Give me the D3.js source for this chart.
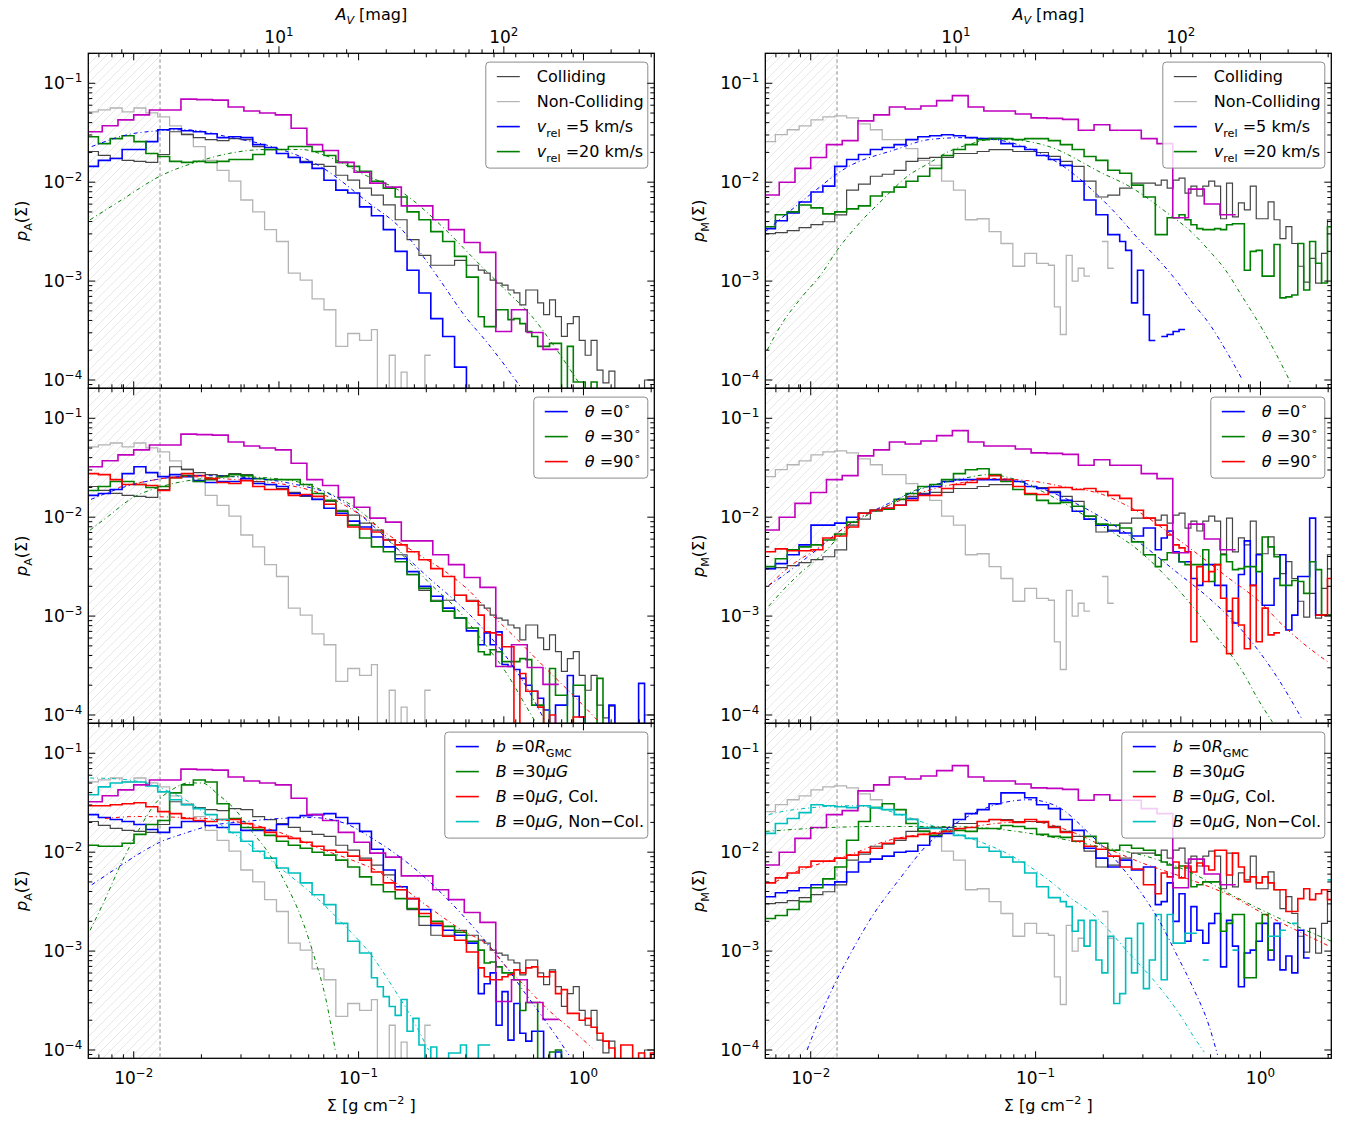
<!DOCTYPE html>
<html>
<head>
<meta charset="utf-8">
<script src="https://cdn.jsdelivr.net/npm/d3@7"></script>
<style>
  body { margin: 0; background: #fff; }
  svg { font-family: "DejaVu Sans", sans-serif; }
</style>
</head>
<body>
<svg id="chart" width="1348" height="1121"></svg>
<script>
// histogram binning (log10 of Σ in g cm^-2); tails continue at half the bin width
const FINE_START = -2.21, FINE_W = 0.0528;
const MAG_START = -2.21, MAG_W = 0.07;
const SIG_CUT = -1.883;      // log10 Σ of the dashed threshold
const AV_PER_SIG = 226;      // A_V [mag] per g cm^-2

// ---- values: log10 p(Σ), one per bin ----
const leftMag = [-1.49,-1.43,-1.37,-1.32,-1.27,-1.27,-1.16,-1.165,-1.17,-1.24,-1.28,-1.30,-1.32,-1.455,-1.62,-1.68,-1.80,-1.90,-2.01,-2.05,-2.24,-2.24,-2.38,-2.48,-2.61,-2.71,-3.51,-3.29,-3.52,-3.69];
const rightMag = [-2.13,-2.00,-1.86,-1.75,-1.62,-1.58,-1.38,-1.32,-1.24,-1.26,-1.23,-1.175,-1.125,-1.24,-1.28,-1.28,-1.31,-1.35,-1.355,-1.365,-1.475,-1.42,-1.475,-1.475,-1.56,-1.61,-2.36,-2.07,-2.22,-2.33];

const leftNon = [-1.29,-1.27,-1.25,-1.29,-1.25,-1.30,-1.34,-1.43,-1.51,-1.64,-1.78,-1.88,-1.99,-2.18,-2.30,-2.48,-2.60,-2.92,-2.99,-3.18,-3.29,-3.66,-3.53,-3.60];
const leftNonTail = [-3.49,-4.3,-4.3,-3.75,-4.3,-3.92,-4.3,-4.3,-4.3,-3.75];
const rightNon = [-1.59,-1.52,-1.47,-1.43,-1.37,-1.34,-1.33,-1.35,-1.41,-1.47,-1.57,-1.57,-1.66,-1.78,-1.83,-1.99,-2.08,-2.38,-2.37,-2.50,-2.62,-2.85,-2.72,-2.82];
const rightNonTail = [-2.84,-3.26,-3.54,-2.74,-3.00,-2.87,-2.95,null,null,-2.60,-2.87];

const leftColl = [-1.69,-1.73,-1.76,-1.78,-1.79,-1.80,-1.72,-1.49,-1.52,-1.55,-1.57,-1.58,-1.56,-1.57,-1.64,-1.67,-1.71,-1.75,-1.79,-1.82,-1.84,-1.93,-1.98,-2.06,-2.13,-2.23,-2.38,-2.58,-2.74,-2.84,-2.84,-2.79,-2.84];
const leftCollTail = [-2.89,-2.92,-2.99,-3.02,-3.04,-3.09,-3.12,-3.24,-3.09,-3.09,-3.22,-3.34,-3.19,-3.36,-3.56,-3.43,-3.36,-3.60,-3.75,-3.60,-3.90,-4.03,-3.91,-4.3,-4.3,-4.3,-4.3,-4.3,-4.0,-4.0];
const rightColl = [-2.52,-2.51,-2.49,-2.46,-2.43,-2.40,-2.33,-2.08,-2.02,-1.94,-1.92,-1.88,-1.79,-1.76,-1.75,-1.75,-1.71,-1.71,-1.69,-1.67,-1.67,-1.69,-1.69,-1.70,-1.74,-1.79,-1.84,-1.99,-2.15,-2.13,-2.06,-2.01,-2.01];
const rightCollTail = [-2.03,-1.98,-2.06,-1.98,-1.96,-2.11,-2.04,-2.14,-2.04,-1.99,-2.04,-2.37,-2.01,-2.35,-2.21,-2.28,-2.04,-2.37,-2.37,-2.20,-2.38,-2.57,-2.45,-2.62,-2.85,-3.01,-2.77,-3.02,-2.72,-2.38];

// top row: relative velocity
const tlV5 = [-1.84,-1.78,-1.76,-1.67,-1.67,-1.59,-1.47,-1.46,-1.48,-1.49,-1.51,-1.55,-1.54,-1.55,-1.62,-1.65,-1.71,-1.75,-1.80,-1.86,-1.98,-2.08,-2.11,-2.25,-2.34,-2.48,-2.70,-2.89,-3.12,-3.38,-3.56,-3.87,-4.3];
const tlV20 = [-1.54,-1.61,-1.56,-1.53,-1.59,-1.71,-1.74,-1.79,-1.80,-1.79,-1.80,-1.79,-1.77,-1.77,-1.72,-1.67,-1.67,-1.64,-1.64,-1.69,-1.73,-1.80,-1.84,-1.89,-1.99,-2.06,-2.15,-2.30,-2.38,-2.50,-2.60,-2.75,-2.96];
const tlV20Tail = [-3.36,-3.46,-3.46,-3.29,-3.29,-3.39,-3.38,-3.43,-3.51,-3.56,-3.66,-3.66,-3.63,-3.63,-4.3,-3.66,-4.02,-4.02,-4.3,-4.02,-4.3];
const trV5 = [-2.47,-2.39,-2.31,-2.20,-2.10,-2.04,-1.84,-1.77,-1.72,-1.67,-1.65,-1.62,-1.57,-1.54,-1.53,-1.52,-1.53,-1.55,-1.56,-1.56,-1.61,-1.64,-1.67,-1.73,-1.77,-1.83,-1.99,-2.18,-2.33,-2.53];
const trV5Tail = [-2.60,-2.69,-3.22,-2.89,-3.34,-3.60,null,-3.56,-3.54,-3.51,-3.49];
const trV20 = [-2.45,-2.33,-2.30,-2.23,-2.26,-2.32,-2.30,-2.27,-2.24,-2.14,-2.10,-2.05,-1.99,-1.94,-1.86,-1.73,-1.67,-1.62,-1.57,-1.56,-1.56,-1.57,-1.56,-1.56,-1.58,-1.62,-1.67,-1.74,-1.78,-1.88,-1.91,-2.03,-2.15];
const trV20Tail = [-2.53,-2.53,-2.36,-2.36,-2.33,-2.38,-2.43,-2.47,-2.48,-2.48,-2.47,-2.48,-2.43,-2.42,-2.42,-2.89,-2.70,-2.69,-2.95,-2.95,-2.63,-3.17,-3.16,-3.14,-2.62,-3.09,-2.60,-2.82,-3.02,-2.45];

// middle row: collision angle
const mlT0 = [-1.78,-1.76,-1.72,-1.56,-1.49,-1.55,-1.59,-1.57,-1.59,-1.63,-1.65,-1.64,-1.64,-1.61,-1.66,-1.67,-1.69,-1.76,-1.78,-1.82,-1.91,-1.96,-2.04,-2.10,-2.20,-2.30,-2.42,-2.55,-2.70,-2.80,-2.92,-3.02,-3.15];
const mlT0Tail = [-3.29,-3.17,-3.29,-3.16,-3.49,-3.51,-3.54,-3.63,-3.70,-3.76,-3.83,-3.95,-4.3,-3.90,-3.90,-3.60,-3.81,-4.02,-4.3,-4.3,-4.3,-4.3,-3.90,-4.3,-4.3,-4.3,-4.3,-3.68,-4.3,-4.3];
const mlT30 = [-1.73,-1.69,-1.64,-1.64,-1.67,-1.70,-1.69,-1.60,-1.58,-1.64,-1.62,-1.59,-1.57,-1.58,-1.61,-1.62,-1.62,-1.62,-1.67,-1.76,-1.83,-1.94,-2.08,-2.21,-2.30,-2.35,-2.45,-2.58,-2.72,-2.85,-2.95,-3.02,-3.12];
const mlT30Tail = [-3.36,-3.39,-3.34,-3.36,-3.46,-3.46,-3.46,-3.43,-3.44,-3.90,-3.90,-4.3,-3.53,-3.80,-3.80,-4.3,-3.70,-3.70,-4.3,-4.3,-3.63,-4.3,-4.3];
const mlT90 = [-1.56,-1.57,-1.62,-1.67,-1.67,-1.68,-1.73,-1.60,-1.56,-1.58,-1.61,-1.65,-1.66,-1.63,-1.69,-1.72,-1.72,-1.78,-1.77,-1.79,-1.87,-1.98,-2.10,-2.12,-2.15,-2.23,-2.28,-2.35,-2.43,-2.52,-2.60,-2.79,-2.85];
const mlT90Tail = [-2.99,-3.16,-3.17,-3.19,-3.31,-3.31,-4.3,-3.58,-3.76,-3.76,-3.92,-4.3,-4.0,-4.3,-4.3,-4.3,-4.02,-4.02];
const mrT0 = [-2.52,-2.47,-2.38,-2.28,-2.08,-2.08,-2.06,-2.00,-1.96,-1.93,-1.91,-1.88,-1.81,-1.77,-1.69,-1.64,-1.62,-1.62,-1.62,-1.62,-1.62,-1.64,-1.69,-1.71,-1.75,-1.83,-1.94,-2.02,-2.08,-2.14,-2.16,-2.19,-2.11];
const mrT0Tail = [-2.33,-2.21,-2.14,-2.35,-2.45,-2.45,-2.62,-2.69,-2.48,-2.48,-2.69,-2.69,-2.95,-3.07,-2.58,-2.24,-2.69,-2.38,-2.89,-2.89,-2.62,-2.38,-3.14,-2.99,-2.60,-2.60,-2.01,-2.99,-2.99,-2.99];
const mrT30 = [-2.50,-2.42,-2.33,-2.30,-2.28,-2.23,-2.17,-2.05,-1.96,-1.93,-1.92,-1.82,-1.76,-1.69,-1.67,-1.62,-1.56,-1.52,-1.51,-1.57,-1.64,-1.72,-1.77,-1.83,-1.86,-1.85,-1.89,-1.99,-2.07,-2.08,-2.11,-2.25,-2.38];
const mrT30Tail = [-2.50,-2.43,-2.36,-2.36,-2.45,-2.48,-2.48,-2.48,-2.33,-2.65,-2.48,-2.38,-2.45,-2.53,-2.52,-2.50,-2.50,-2.55,-2.20,-2.30,-2.40,-2.69,-2.69,-2.64,-2.65,-2.77,-2.45,-2.53,-2.99,-2.99];
const mrT90 = [-2.35,-2.32,-2.34,-2.34,-2.33,-2.21,-2.19,-2.10,-1.96,-1.93,-1.91,-1.88,-1.83,-1.78,-1.78,-1.71,-1.67,-1.65,-1.61,-1.58,-1.62,-1.69,-1.76,-1.77,-1.70,-1.70,-1.72,-1.71,-1.74,-1.78,-1.81,-1.93,-2.01];
const mrT90Tail = [-2.08,-2.08,-2.18,-2.28,-2.31,-2.35,-3.26,-2.50,-2.65,-2.55,-2.48,-2.82,-3.38,-2.82,-3.09,-3.33,-2.69,-3.26,-2.92,-3.19,-3.17,null,null,null,null,null,null,-2.99,-2.99,-2.62];

// bottom row: impact parameter / field strength
const blB0 = [-1.62,-1.65,-1.67,-1.69,-1.72,-1.77,-1.80,-1.75,-1.69,-1.69,-1.73,-1.75,-1.72,-1.78,-1.78,-1.78,-1.72,-1.65,-1.63,-1.62,-1.61,-1.65,-1.71,-1.79,-1.97,-2.18,-2.35,-2.47,-2.58,-2.74,-2.79,-2.84,-2.92];
const blB0Tail = [-3.43,-3.33,-3.22,-3.75,-3.41,-3.90,-3.53,-3.83,-3.91,-3.81,-3.81,-4.3,-4.3,-4.02,-4.3];
const blB30 = [-1.93,-1.94,-1.94,-1.91,-1.82,-1.72,-1.68,-1.40,-1.32,-1.27,-1.29,-1.51,-1.66,-1.75,-1.77,-1.83,-1.89,-1.93,-1.96,-2.00,-2.03,-2.08,-2.15,-2.25,-2.33,-2.40,-2.47,-2.57,-2.65,-2.70,-2.75,-2.81,-2.90];
const blB30Tail = [-2.99,-3.12,-3.11,-3.16,-3.22,-3.22,-3.29,-3.60,-3.52,-3.52,-4.3,-4.3,-4.02,-4.0,-4.3];
const blCol = [-1.53,-1.53,-1.52,-1.51,-1.50,-1.54,-1.59,-1.61,-1.66,-1.68,-1.69,-1.67,-1.67,-1.71,-1.75,-1.80,-1.84,-1.86,-1.90,-1.94,-1.98,-2.00,-2.04,-2.08,-2.20,-2.31,-2.38,-2.47,-2.62,-2.72,-2.85,-2.89,-3.01];
const blColTail = [-3.17,-3.26,-3.29,-3.29,-3.26,-3.24,-3.19,-3.22,-3.17,-3.16,-3.26,-3.26,-3.21,-3.43,-3.39,-3.63,-3.63,-3.70,-3.68,-3.77,-3.83,-3.91,-3.98,-4.3,-3.95,-3.95,-4.3,-4.03,-4.3,-4.03];
const blNon = [-1.42,-1.34,-1.30,-1.29,-1.29,-1.33,-1.39,-1.47,-1.52,-1.56,-1.62,-1.67,-1.80,-1.89,-1.99,-2.06,-2.16,-2.21,-2.31,-2.43,-2.53,-2.72,-2.90,-3.02];
const blNonTail = [-3.27,-3.36,-3.46,-3.56,-3.65,-3.49,-3.81,-3.68,-3.95,-4.3,-3.97,-4.3,-4.3,-4.03,-4.03,-3.95,-4.3,-4.3,-3.95,-3.95];
const brB0 = [-2.45,-2.41,-2.39,-2.36,-2.33,-2.33,-2.30,-2.20,-2.10,-2.07,-2.04,-2.00,-1.99,-1.93,-1.84,-1.81,-1.67,-1.61,-1.57,-1.51,-1.40,-1.40,-1.45,-1.52,-1.56,-1.67,-1.78,-1.96,-2.06,-2.15,-2.08,-2.18,-2.15];
const brB0Tail = [-2.53,-2.50,-2.31,-2.70,-2.42,-2.90,-2.55,-2.79,-2.92,-2.72,-2.62,-3.16,-2.69,-2.95,-3.36,-3.02,-2.99,-2.90,-2.72,-3.09,-2.72,-3.19,-3.05,-3.22,-2.79,-3.07];
const brB30 = [-2.67,-2.64,-2.58,-2.50,-2.36,-2.27,-2.15,-1.88,-1.69,-1.55,-1.51,-1.57,-1.71,-1.79,-1.83,-1.79,-1.78,-1.79,-1.76,-1.76,-1.73,-1.74,-1.76,-1.82,-1.84,-1.85,-1.89,-1.84,-1.91,-1.98,-1.93,-1.96,-1.98];
const brB30Tail = [-2.03,-2.10,-2.13,-2.16,-2.14,-2.16,-2.35,-2.33,-2.30,-2.30,-2.30,-2.80,-2.72,-2.63,-2.63,-3.27,-3.27,-2.72,-2.63,-2.99];
const brCol = [-2.31,-2.26,-2.21,-2.15,-2.09,-2.09,-2.06,-2.03,-2.00,-1.96,-1.91,-1.86,-1.84,-1.82,-1.81,-1.79,-1.76,-1.75,-1.69,-1.67,-1.68,-1.70,-1.67,-1.69,-1.75,-1.80,-1.89,-1.94,-1.97,-2.04,-2.15,-2.17,-2.33];
const brColTail = [-2.42,-2.21,-2.25,-2.10,-2.26,-2.14,-2.20,-2.11,-2.14,-2.18,-1.98,-1.98,-2.23,-2.01,-2.15,-2.30,-2.25,-2.31,-2.25,-2.31,-2.38,-2.38,-2.60,-2.60,-2.47,-2.37,-2.48,-2.42,-2.38,-2.48];
const brNon = [-1.81,-1.71,-1.66,-1.60,-1.52,-1.53,-1.54,-1.55,-1.53,-1.55,-1.57,-1.62,-1.67,-1.75,-1.76,-1.77,-1.83,-1.86,-1.95,-1.99,-2.05,-2.10,-2.21,-2.35,-2.46];
const brNonTail = [-2.50,-2.55,-2.80,-2.69,-2.95,-2.69,-3.09,-3.22,-2.85,-3.53,-3.43,-2.87,-3.22,-2.72,-3.38,-3.09,-2.63,-3.29,-2.63,-2.92,-2.92,-2.82,-2.82,null,-3.09,null,null,null,null,-2.99,null,null,null,null,null,-2.85,-2.85,-2.79,null,-2.72,null,null,null,null,null,-2.28];

// ---- fits: [log10 Σ, log10 p] ----
const tlV5Fit = [[-2.187,-1.64],[-1.979,-1.50],[-1.771,-1.47],[-1.564,-1.55],[-1.386,-1.64],[-1.178,-1.83],[-0.955,-2.21],[-0.807,-2.48],[-0.733,-2.69],[-0.629,-3.02],[-0.525,-3.36],[-0.436,-3.60],[-0.347,-3.86],[-0.280,-4.07]];
const tlV20Fit = [[-2.194,-2.38],[-2.068,-2.20],[-1.875,-1.93],[-1.712,-1.79],[-1.578,-1.71],[-1.415,-1.67],[-1.252,-1.67],[-1.148,-1.73],[-0.970,-1.93],[-0.822,-2.08],[-0.614,-2.48],[-0.480,-2.79],[-0.347,-3.09],[-0.228,-3.36],[-0.139,-3.63],[-0.020,-4.03]];
const trV5Fit = [[-2.202,-2.50],[-2.128,-2.36],[-1.994,-2.11],[-1.846,-1.86],[-1.623,-1.67],[-1.475,-1.57],[-1.326,-1.55],[-1.178,-1.57],[-1.029,-1.66],[-0.896,-1.81],[-0.748,-2.08],[-0.658,-2.28],[-0.540,-2.58],[-0.451,-2.79],[-0.376,-2.99],[-0.302,-3.22],[-0.228,-3.43],[-0.154,-3.70],[-0.080,-4.0]];
const trV20Fit = [[-2.194,-3.70],[-2.128,-3.43],[-2.039,-3.16],[-1.950,-2.92],[-1.883,-2.69],[-1.786,-2.42],[-1.682,-2.18],[-1.564,-1.93],[-1.475,-1.81],[-1.386,-1.69],[-1.297,-1.62],[-1.207,-1.57],[-1.118,-1.57],[-1.029,-1.59],[-0.940,-1.64],[-0.703,-1.91],[-0.585,-2.04],[-0.392,-2.35],[-0.318,-2.48],[-0.229,-2.69],[-0.155,-2.89],[-0.080,-3.16],[-0.006,-3.43],[0.068,-3.73],[0.135,-4.03]];
const mlT0Fit = [[-2.19,-1.82],[-2.05,-1.70],[-1.90,-1.62],[-1.70,-1.58],[-1.50,-1.60],[-1.30,-1.66],[-1.10,-1.80],[-0.97,-2.02],[-0.822,-2.33],[-0.68,-2.63],[-0.554,-2.88],[-0.458,-3.10],[-0.347,-3.40],[-0.258,-3.70],[-0.169,-4.07]];
const mlT30Fit = [[-2.194,-2.13],[-2.113,-1.99],[-2.009,-1.81],[-1.875,-1.69],[-1.727,-1.62],[-1.549,-1.59],[-1.326,-1.62],[-1.148,-1.74],[-0.970,-1.98],[-0.777,-2.45],[-0.674,-2.69],[-0.554,-2.95],[-0.436,-3.29],[-0.347,-3.56],[-0.258,-3.90],[-0.214,-4.07]];
const mlT90Fit = [[-2.068,-1.70],[-1.950,-1.64],[-1.771,-1.59],[-1.549,-1.62],[-1.326,-1.67],[-1.148,-1.78],[-0.970,-2.01],[-0.822,-2.25],[-0.718,-2.40],[-0.614,-2.55],[-0.510,-2.74],[-0.406,-2.99],[-0.302,-3.22],[-0.198,-3.46],[-0.109,-3.66],[-0.020,-3.86],[0.069,-4.07]];
const mrT0Fit = [[-2.187,-2.69],[-2.128,-2.60],[-2.001,-2.38],[-1.846,-2.10],[-1.653,-1.86],[-1.475,-1.69],[-1.297,-1.62],[-1.148,-1.62],[-1.0,-1.69],[-0.822,-1.86],[-0.673,-2.05],[-0.525,-2.28],[-0.376,-2.55],[-0.228,-2.82],[-0.080,-3.15],[0.069,-3.60],[0.187,-4.05]];
const mrT30Fit = [[-2.187,-2.90],[-2.128,-2.75],[-2.039,-2.55],[-1.950,-2.38],[-1.875,-2.20],[-1.771,-2.01],[-1.653,-1.88],[-1.549,-1.74],[-1.445,-1.67],[-1.326,-1.61],[-1.207,-1.57],[-1.088,-1.62],[-0.970,-1.74],[-0.748,-2.03],[-0.540,-2.34],[-0.332,-2.82],[-0.213,-3.16],[-0.080,-3.56],[-0.006,-3.86],[0.053,-4.07]];
const mrT90Fit = [[-2.187,-2.69],[-2.083,-2.48],[-1.994,-2.35],[-1.920,-2.23],[-1.846,-2.10],[-1.771,-1.99],[-1.653,-1.88],[-1.549,-1.78],[-1.445,-1.71],[-1.326,-1.65],[-1.207,-1.61],[-1.088,-1.62],[-0.970,-1.65],[-0.881,-1.69],[-0.792,-1.72],[-0.703,-1.77],[-0.614,-1.86],[-0.525,-1.97],[-0.406,-2.16],[-0.287,-2.36],[-0.139,-2.62],[-0.006,-2.85],[0.098,-3.09],[0.187,-3.27],[0.298,-3.46]];
const blB0Fit = [[-2.187,-2.33],[-2.068,-2.15],[-1.950,-1.98],[-1.875,-1.89],[-1.801,-1.83],[-1.653,-1.73],[-1.504,-1.69],[-1.356,-1.66],[-1.207,-1.65],[-1.059,-1.71],[-0.940,-1.86],[-0.852,-1.99],[-0.733,-2.20],[-0.629,-2.42],[-0.540,-2.63],[-0.436,-2.90],[-0.347,-3.15],[-0.258,-3.43],[-0.184,-3.66],[-0.124,-3.85],[-0.065,-4.05]];
const blB30Fit = [[-2.194,-2.79],[-2.128,-2.48],[-2.053,-2.10],[-1.979,-1.78],[-1.905,-1.51],[-1.831,-1.37],[-1.757,-1.30],[-1.697,-1.30],[-1.623,-1.42],[-1.549,-1.57],[-1.475,-1.79],[-1.400,-2.01],[-1.326,-2.31],[-1.252,-2.68],[-1.193,-3.09],[-1.148,-3.46],[-1.104,-4.0]];
const blColFit = [[-2.128,-1.66],[-1.994,-1.64],[-1.771,-1.65],[-1.475,-1.72],[-1.326,-1.82],[-1.178,-1.96],[-1.029,-2.08],[-0.926,-2.18],[-0.822,-2.33],[-0.673,-2.58],[-0.540,-2.79],[-0.421,-2.95],[-0.347,-3.15],[-0.258,-3.36],[-0.154,-3.60],[-0.050,-3.80],[0.039,-3.98]];
const blNonFit = [[-2.194,-1.25],[-2.068,-1.26],[-1.920,-1.32],[-1.771,-1.47],[-1.623,-1.71],[-1.475,-1.94],[-1.326,-2.20],[-1.178,-2.48],[-1.059,-2.75],[-0.940,-3.05],[-0.852,-3.35],[-0.770,-3.65],[-0.689,-4.0]];
const brB0Fit = [[-2.016,-4.0],[-1.920,-3.46],[-1.831,-3.06],[-1.727,-2.65],[-1.608,-2.28],[-1.475,-1.91],[-1.326,-1.67],[-1.178,-1.52],[-1.029,-1.47],[-0.911,-1.53],[-0.748,-1.84],[-0.659,-2.04],[-0.540,-2.38],[-0.451,-2.69],[-0.376,-3.02],[-0.302,-3.36],[-0.228,-3.76],[-0.191,-4.05]];
const brB30Fit = [[-2.20,-1.79],[-2.0,-1.76],[-1.7,-1.74],[-1.4,-1.74],[-1.2,-1.76],[-0.970,-1.83],[-0.748,-1.93],[-0.480,-2.06],[-0.287,-2.23],[-0.155,-2.40],[0.038,-2.62],[0.202,-2.79],[0.315,-2.90]];
const brColFit = [[-2.157,-2.30],[-2.068,-2.20],[-1.935,-2.10],[-1.831,-2.03],[-1.653,-1.88],[-1.475,-1.81],[-1.326,-1.76],[-1.178,-1.71],[-1.029,-1.69],[-0.822,-1.81],[-0.673,-1.97],[-0.525,-2.11],[-0.347,-2.25],[-0.228,-2.35],[-0.124,-2.45],[-0.020,-2.58],[0.098,-2.72],[0.187,-2.82],[0.306,-2.95]];
const brNonFit = [[-2.187,-1.62],[-2.128,-1.59],[-1.994,-1.55],[-1.846,-1.53],[-1.697,-1.56],[-1.549,-1.66],[-1.400,-1.78],[-1.252,-1.89],[-1.104,-2.04],[-0.926,-2.31],[-0.852,-2.45],[-0.748,-2.62],[-0.585,-3.02],[-0.451,-3.36],[-0.362,-3.63],[-0.287,-3.90],[-0.250,-4.02]];

// ---- legends ----
const LEG_VREL = [
  ["black", [{t: "Colliding"}]],
  ["gray", [{t: "Non-Colliding"}]],
  ["blue", [{t: "v", it: 1}, {t: "rel", sub: 1}, {t: " =5 km/s"}]],
  ["green", [{t: "v", it: 1}, {t: "rel", sub: 1}, {t: " =20 km/s"}]]
];
const LEG_THETA = [
  ["blue", [{t: "θ", it: 1}, {t: " =0"}, {t: "∘", sup: 1}]],
  ["green", [{t: "θ", it: 1}, {t: " =30"}, {t: "∘", sup: 1}]],
  ["red", [{t: "θ", it: 1}, {t: " =90"}, {t: "∘", sup: 1}]]
];
const LEG_B = [
  ["blue", [{t: "b", it: 1}, {t: " =0"}, {t: "R", it: 1}, {t: "GMC", sub: 1}]],
  ["green", [{t: "B", it: 1}, {t: " =30"}, {t: "μG", it: 1}]],
  ["red", [{t: "B", it: 1}, {t: " =0"}, {t: "μG", it: 1}, {t: ", Col."}]],
  ["cyan", [{t: "B", it: 1}, {t: " =0"}, {t: "μG", it: 1}, {t: ", Non−Col."}]]
];

const COLOR = {
  black: "#454545", gray: "#b4b4b4", mag: "#bf00bf",
  blue: "#0000ff", green: "#008000", red: "#ff0000", cyan: "#00bfbf"
};

// ---- layout ----
const COL_X = [88.3, 765.3], PW = 566;
const ROW_Y = [53.3, 388.3, 723.3], PH = 335;
const LOG_X = [-2.202, 0.315], LOG_Y = [-4.084, -0.697];

const panels = [
  {col: 0, row: 0, hist: [["blue", tlV5], ["green", tlV20, tlV20Tail]], fits: [["blue", tlV5Fit], ["green", tlV20Fit]], legend: LEG_VREL, legW: 162},
  {col: 1, row: 0, hist: [["blue", trV5, trV5Tail], ["green", trV20, trV20Tail]], fits: [["blue", trV5Fit], ["green", trV20Fit]], legend: LEG_VREL, legW: 162},
  {col: 0, row: 1, hist: [["blue", mlT0, mlT0Tail], ["green", mlT30, mlT30Tail], ["red", mlT90, mlT90Tail]], fits: [["blue", mlT0Fit], ["green", mlT30Fit], ["red", mlT90Fit]], legend: LEG_THETA, legW: 114},
  {col: 1, row: 1, hist: [["blue", mrT0, mrT0Tail], ["green", mrT30, mrT30Tail], ["red", mrT90, mrT90Tail]], fits: [["blue", mrT0Fit], ["green", mrT30Fit], ["red", mrT90Fit]], legend: LEG_THETA, legW: 114},
  {col: 0, row: 2, hist: [["blue", blB0, blB0Tail], ["green", blB30, blB30Tail], ["red", blCol, blColTail], ["cyan", blNon, blNonTail]], fits: [["blue", blB0Fit], ["green", blB30Fit], ["red", blColFit], ["cyan", blNonFit]], legend: LEG_B, legW: 203},
  {col: 1, row: 2, hist: [["blue", brB0, brB0Tail], ["green", brB30, brB30Tail], ["red", brCol, brColTail], ["cyan", brNon, brNonTail]], fits: [["blue", brB0Fit], ["green", brB30Fit], ["red", brColFit], ["cyan", brNonFit]], legend: LEG_B, legW: 203}
];
const shared = [
  {coll: [leftColl, leftCollTail], non: [leftNon, leftNonTail], mag: leftMag, ylab: "A"},
  {coll: [rightColl, rightCollTail], non: [rightNon, rightNonTail], mag: rightMag, ylab: "M"}
];

const svg = d3.select("#chart");
const FS = 16, TFS = 17;

// text with sub/superscripts and italics
function rich(sel, parts, fs) {
  let shift = 0;
  parts.forEach(pt => {
    const ts = sel.append("tspan").text(pt.t);
    const target = pt.sub ? fs * 0.28 : pt.sup ? -fs * 0.42 : 0;
    if (target !== shift) { ts.attr("dy", target - shift); shift = target; }
    if (pt.sub || pt.sup) ts.attr("font-size", fs * 0.7);
    if (pt.it) ts.attr("font-style", "italic");
  });
  return sel;
}

// step outline; runs = [{start, width, vals}], consecutive bins are joined
function stepPath(x, y, runs) {
  const p = d3.path();
  let prev = false;
  runs.forEach(r => r.vals.forEach((v, k) => {
    if (v === null) { prev = false; return; }
    const x0 = x(Math.pow(10, r.start + k * r.width));
    const x1 = x(Math.pow(10, r.start + (k + 1) * r.width));
    const yy = y(Math.pow(10, v));
    if (prev) p.lineTo(x0, yy); else p.moveTo(x0, yy);
    p.lineTo(x1, yy);
    prev = true;
  }));
  return p.toString();
}
function runs(coarse, tail) {
  const out = [{start: FINE_START, width: FINE_W, vals: coarse}];
  if (tail) out.push({start: FINE_START + coarse.length * FINE_W, width: FINE_W / 2, vals: tail});
  return out;
}

const defs = svg.append("defs");
const hatch = defs.append("pattern").attr("id", "hatch")
  .attr("patternUnits", "userSpaceOnUse").attr("width", 9).attr("height", 9);
hatch.append("path").attr("d", "M-2,2 L2,-2 M0,9 L9,0 M7,11 L11,7")
  .attr("stroke", "#e2e2e2").attr("stroke-width", 0.8);

const isMajor = v => Math.abs(Math.log10(v) - Math.round(Math.log10(v))) < 1e-6;
const supLabel = v => [{t: "10"}, {t: String(Math.round(Math.log10(v))).replace("-", "−"), sup: 1}];

panels.forEach((pn, i) => {
  const x0 = COL_X[pn.col], y0 = ROW_Y[pn.row];
  const sh = shared[pn.col];
  const x = d3.scaleLog().domain(LOG_X.map(v => Math.pow(10, v))).range([x0, x0 + PW]);
  const y = d3.scaleLog().domain(LOG_Y.map(v => Math.pow(10, v))).range([y0 + PH, y0]);
  const xav = d3.scaleLog().domain(x.domain().map(v => v * AV_PER_SIG)).range(x.range());

  defs.append("clipPath").attr("id", "clip" + i)
    .append("rect").attr("x", x0).attr("y", y0).attr("width", PW).attr("height", PH);

  const g = svg.append("g");
  const plot = g.append("g").attr("clip-path", `url(#clip${i})`);

  // region below the threshold
  const xc = x(Math.pow(10, SIG_CUT));
  plot.append("rect").attr("x", x0).attr("y", y0).attr("width", xc - x0).attr("height", PH)
    .attr("fill", "url(#hatch)");
  plot.append("line").attr("x1", xc).attr("x2", xc).attr("y1", y0).attr("y2", y0 + PH)
    .attr("stroke", "#a8a8a8").attr("stroke-width", 1.3).attr("stroke-dasharray", "3.5,2.5");

  // reference runs
  plot.append("path").attr("d", stepPath(x, y, runs(...sh.non)))
    .attr("fill", "none").attr("stroke", COLOR.gray).attr("stroke-width", 1.3);
  plot.append("path").attr("d", stepPath(x, y, runs(...sh.coll)))
    .attr("fill", "none").attr("stroke", COLOR.black).attr("stroke-width", 1.2);

  pn.hist.forEach(([c, coarse, tail]) => {
    plot.append("path").attr("d", stepPath(x, y, runs(coarse, tail)))
      .attr("fill", "none").attr("stroke", COLOR[c]).attr("stroke-width", 1.6);
  });

  plot.append("path").attr("d", stepPath(x, y, [{start: MAG_START, width: MAG_W, vals: sh.mag}]))
    .attr("fill", "none").attr("stroke", COLOR.mag).attr("stroke-width", 1.6);

  const fitLine = d3.line()
    .x(d => x(Math.pow(10, d[0]))).y(d => y(Math.pow(10, d[1])))
    .curve(d3.curveMonotoneX);
  pn.fits.forEach(([c, pts]) => {
    plot.append("path").attr("d", fitLine(pts))
      .attr("fill", "none").attr("stroke", COLOR[c]).attr("stroke-width", 1)
      .attr("stroke-dasharray", "4,3,1,3");
  });

  // legend
  const rowH = 25;
  const lx = x0 + PW - 6.5 - pn.legW, ly = y0 + 8.8;
  const lh = pn.legend.length * rowH + 6;
  const leg = g.append("g");
  leg.append("rect").attr("x", lx).attr("y", ly).attr("width", pn.legW).attr("height", lh)
    .attr("rx", 3.5).attr("fill", "#fff").attr("fill-opacity", 0.8)
    .attr("stroke", "#8c8c8c").attr("stroke-width", 1);
  pn.legend.forEach(([c, parts], j) => {
    const cy = ly + 14.5 + j * rowH;
    leg.append("line").attr("x1", lx + 11).attr("x2", lx + 34).attr("y1", cy).attr("y2", cy)
      .attr("stroke", COLOR[c]).attr("stroke-width", c === "black" || c === "gray" ? 1.2 : 1.6);
    rich(leg.append("text").attr("x", lx + 51).attr("y", cy + 5.5).attr("font-size", FS), parts, FS);
  });

  // frame
  const ax = g.append("g").attr("stroke", "#000");
  ax.append("rect").attr("x", x0).attr("y", y0).attr("width", PW).attr("height", PH)
    .attr("fill", "none").attr("stroke-width", 1.3);

  // Σ ticks (bottom & top, inward)
  x.ticks().forEach(v => {
    const px = x(v), len = isMajor(v) ? 7 : 4;
    ax.append("line").attr("x1", px).attr("x2", px).attr("y1", y0 + PH).attr("y2", y0 + PH - len).attr("stroke-width", 1);
    ax.append("line").attr("x1", px).attr("x2", px).attr("y1", y0).attr("y2", y0 + len).attr("stroke-width", 1);
    if (pn.row === 2 && isMajor(v)) {
      rich(g.append("text").attr("x", px).attr("y", y0 + PH + 26).attr("text-anchor", "middle")
        .attr("font-size", TFS), supLabel(v), TFS);
    }
  });
  // A_V ticks (top, outward)
  xav.ticks().forEach(v => {
    const px = xav(v), len = isMajor(v) ? 7 : 4;
    ax.append("line").attr("x1", px).attr("x2", px).attr("y1", y0).attr("y2", y0 - len).attr("stroke-width", 1);
    if (pn.row === 0 && isMajor(v)) {
      rich(g.append("text").attr("x", px).attr("y", y0 - 10).attr("text-anchor", "middle")
        .attr("font-size", TFS), supLabel(v), TFS);
    }
  });
  // p ticks (left & right, inward)
  y.ticks().forEach(v => {
    const py = y(v), len = isMajor(v) ? 7 : 4;
    ax.append("line").attr("x1", x0).attr("x2", x0 + len).attr("y1", py).attr("y2", py).attr("stroke-width", 1);
    ax.append("line").attr("x1", x0 + PW).attr("x2", x0 + PW - len).attr("y1", py).attr("y2", py).attr("stroke-width", 1);
    if (isMajor(v)) {
      rich(g.append("text").attr("x", x0 - 6).attr("y", py + 6).attr("text-anchor", "end")
        .attr("font-size", TFS), supLabel(v), TFS);
    }
  });

  // y label
  const yl = g.append("text").attr("text-anchor", "middle").attr("font-size", FS)
    .attr("transform", `translate(${x0 - 61},${y0 + PH / 2}) rotate(-90)`);
  rich(yl, [{t: "p", it: 1}, {t: sh.ylab, sub: 1}, {t: "(Σ)"}], FS);

  if (pn.row === 0) {
    rich(g.append("text").attr("x", x0 + PW / 2).attr("y", 20).attr("text-anchor", "middle")
      .attr("font-size", FS), [{t: "A", it: 1}, {t: "V", it: 1, sub: 1}, {t: " [mag]"}], FS);
  }
  if (pn.row === 2) {
    rich(g.append("text").attr("x", x0 + PW / 2).attr("y", 1111).attr("text-anchor", "middle")
      .attr("font-size", FS), [{t: "Σ [g cm"}, {t: "−2", sup: 1}, {t: " ]"}], FS);
  }
});
</script>
</body>
</html>
